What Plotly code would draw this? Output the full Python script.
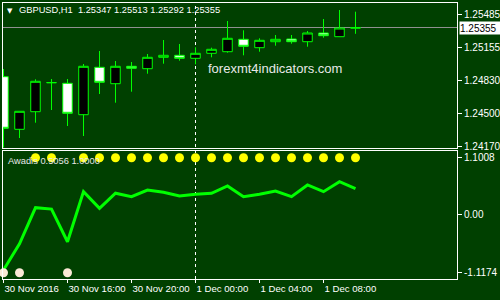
import plotly.graph_objects as go

# ---------------- data ----------------
bar_index = list(range(23))
open_ = [1.24863, 1.24337, 1.24513, 1.24805, 1.24797, 1.24483, 1.24957, 1.24793,
         1.24967, 1.24943, 1.25057, 1.25077, 1.25047, 1.25097, 1.25113, 1.25237,
         1.25153, 1.25213, 1.25240, 1.25213, 1.25300, 1.25263, 1.25347]
high = [1.24940, 1.24517, 1.24837, 1.24840, 1.24840, 1.24990, 1.25120, 1.25020,
        1.25010, 1.25090, 1.25230, 1.25190, 1.25157, 1.25153, 1.25420, 1.25327,
        1.25247, 1.25280, 1.25280, 1.25320, 1.25440, 1.25530, 1.25513]
low = [1.24155, 1.24250, 1.24403, 1.24530, 1.24370, 1.24270, 1.24690, 1.24603,
       1.24713, 1.24893, 1.24993, 1.25023, 1.24987, 1.25057, 1.25103, 1.25077,
       1.25113, 1.25173, 1.25193, 1.25163, 1.25253, 1.25263, 1.25292]
close = [1.24347, 1.24517, 1.24817, 1.24803, 1.24497, 1.24967, 1.24807, 1.24967,
         1.24947, 1.25057, 1.25077, 1.25047, 1.25097, 1.25137, 1.25247, 1.25167,
         1.25227, 1.25237, 1.25213, 1.25300, 1.25273, 1.25350, 1.25355]

awadis = [-1.065, -0.56, 0.137, 0.11, -0.52, 0.446, 0.125, 0.415, 0.35, 0.478,
          0.434, 0.363, 0.395, 0.415, 0.556, 0.349, 0.395, 0.459, 0.349, 0.575,
          0.446, 0.639, 0.5056]
dot_state = ['dn', 'dn', 'up', 'up', 'dn', 'up', 'up', 'up', 'up', 'up', 'up', 'up',
             'up', 'up', 'up', 'up', 'up', 'up', 'up', 'up', 'up', 'up', 'up']
dot_level_up = 1.1008
dot_level_dn = -1.1174

price_ticks = [1.25485, 1.25155, 1.24830, 1.24500, 1.24170]
price_ticktext = ["1.25485", "1.25155", "1.24830", "1.24500", "1.24170"]
ind_ticks = [1.1008, 0.0, -1.1174]
ind_ticktext = ["1.1008", "0.00", "-1.1174"]
time_ticks = [0, 4, 8, 12, 16, 20]
time_ticktext = ["30 Nov 2016", "30 Nov 16:00", "30 Nov 20:00", "1 Dec 00:00",
                 "1 Dec 04:00", "1 Dec 08:00"]
day_break_index = 12
current_price = 1.25355
title_text = "GBPUSD,H1  1.25347 1.25513 1.25292 1.25355"
ind_label = "Awadis 0.5056 1.0000"
watermark = "forexmt4indicators.com"

# ---------------- style ----------------
BG = "#004000"
LIME = "#00ff00"
WHITE = "#ffffff"
FONT = "Liberation Sans, Arial, sans-serif"
W, H = 500, 300
ML, MR, MT, MB = 3, 43, 3, 21
PW, PH = W - ML - MR, H - MT - MB


def px(x):
    return (x - ML) / PW


def py(y):
    return (H - MB - y) / PH


fig = go.Figure()

fig.add_trace(go.Candlestick(
    x=bar_index, open=open_, high=high, low=low, close=close,
    xaxis="x", yaxis="y", whiskerwidth=0,
    increasing=dict(line=dict(color=LIME, width=1), fillcolor="black"),
    decreasing=dict(line=dict(color=LIME, width=1), fillcolor="white"),
    hoverinfo="skip",
))

fig.add_trace(go.Scatter(
    x=bar_index, y=awadis, mode="lines", xaxis="x2", yaxis="y2",
    line=dict(color=LIME, width=3), hoverinfo="skip",
))

up_x = [i for i, s in zip(bar_index, dot_state) if s == "up"]
dn_x = [i for i, s in zip(bar_index, dot_state) if s == "dn"]
fig.add_trace(go.Scatter(
    x=up_x, y=[dot_level_up] * len(up_x), mode="markers", xaxis="x2", yaxis="y2",
    marker=dict(color="#ffff00", size=9, line=dict(width=0)), hoverinfo="skip",
    cliponaxis=False,
))
fig.add_trace(go.Scatter(
    x=dn_x, y=[dot_level_dn] * len(dn_x), mode="markers", xaxis="x2", yaxis="y2",
    marker=dict(color="#fbe9d6", size=9, line=dict(width=0)), hoverinfo="skip",
    cliponaxis=False,
))

xr = [(ML - (ML + 0.5)) / 16.0, (ML + PW - (ML + 0.5)) / 16.0]
axis_common = dict(showgrid=False, zeroline=False, showline=True, mirror=True,
                   linecolor=WHITE, linewidth=1, fixedrange=True, automargin=False)
tickfont = dict(family=FONT, size=10, color=WHITE)

fig.update_layout(
    width=W, height=H,
    margin=dict(l=ML, r=MR, t=MT, b=MB, pad=0, autoexpand=False),
    paper_bgcolor=BG, plot_bgcolor=BG, showlegend=False,
    boxgap=0.15,
    xaxis=dict(domain=[0, 1], anchor="y", range=xr, showticklabels=False, ticks="",
               rangeslider=dict(visible=False), **axis_common),
    xaxis2=dict(domain=[0, 1], anchor="y2", range=xr, matches="x",
                tickvals=time_ticks, ticktext=time_ticktext, ticks="outside",
                ticklen=3, tickcolor=WHITE, ticklabelposition="outside right",
                tickangle=0, tickfont=dict(family=FONT, size=9.6, color=WHITE),
                **axis_common),
    yaxis=dict(domain=[py(148), 1], anchor="x", side="right",
               range=[1.2415, 1.2560], tickvals=price_ticks, ticktext=price_ticktext,
               ticks="outside", ticklen=4, tickcolor=WHITE, tickfont=tickfont,
               **axis_common),
    yaxis2=dict(domain=[0, py(151)], anchor="x2", side="right",
                range=[-1.2389, 1.2300], tickvals=ind_ticks, ticktext=ind_ticktext,
                ticks="outside", ticklen=4, tickcolor=WHITE, tickfont=tickfont,
                **axis_common),
)

fig.add_shape(type="line", xref="x", yref="paper", x0=day_break_index,
              x1=day_break_index, y0=0, y1=1, layer="below",
              line=dict(color=WHITE, width=1, dash="3px,3px"))
fig.add_shape(type="line", xref="paper", yref="y", x0=0, x1=1,
              y0=current_price, y1=current_price, layer="below",
              line=dict(color="#909090", width=1))

fig.add_annotation(xref="paper", yref="paper", x=px(9.5), y=py(11), text="▼",
                   showarrow=False, xanchor="center", yanchor="middle",
                   font=dict(family="DejaVu Sans", size=7, color=WHITE))
fig.add_annotation(xref="paper", yref="paper", x=px(17), y=py(10), text=title_text,
                   showarrow=False, xanchor="left", yanchor="middle",
                   font=dict(family=FONT, size=9.3, color=WHITE))
fig.add_annotation(xref="paper", yref="paper", x=px(206), y=py(68), text=watermark,
                   showarrow=False, xanchor="left", yanchor="middle",
                   font=dict(family=FONT, size=13, color="#e8e8e8"))
fig.add_annotation(xref="paper", yref="paper", x=px(6), y=py(160.5), text=ind_label,
                   showarrow=False, xanchor="left", yanchor="middle",
                   font=dict(family=FONT, size=9.3, color="#e8e8e8"))
fig.add_annotation(xref="paper", yref="y", x=px(459), y=current_price,
                   text=str(current_price).ljust(7, "0"), showarrow=False,
                   xanchor="left", yanchor="middle", bgcolor=WHITE, borderpad=0,
                   width=40, height=12, align="left",
                   font=dict(family=FONT, size=10, color="black"))

fig.write_html("out.html")
